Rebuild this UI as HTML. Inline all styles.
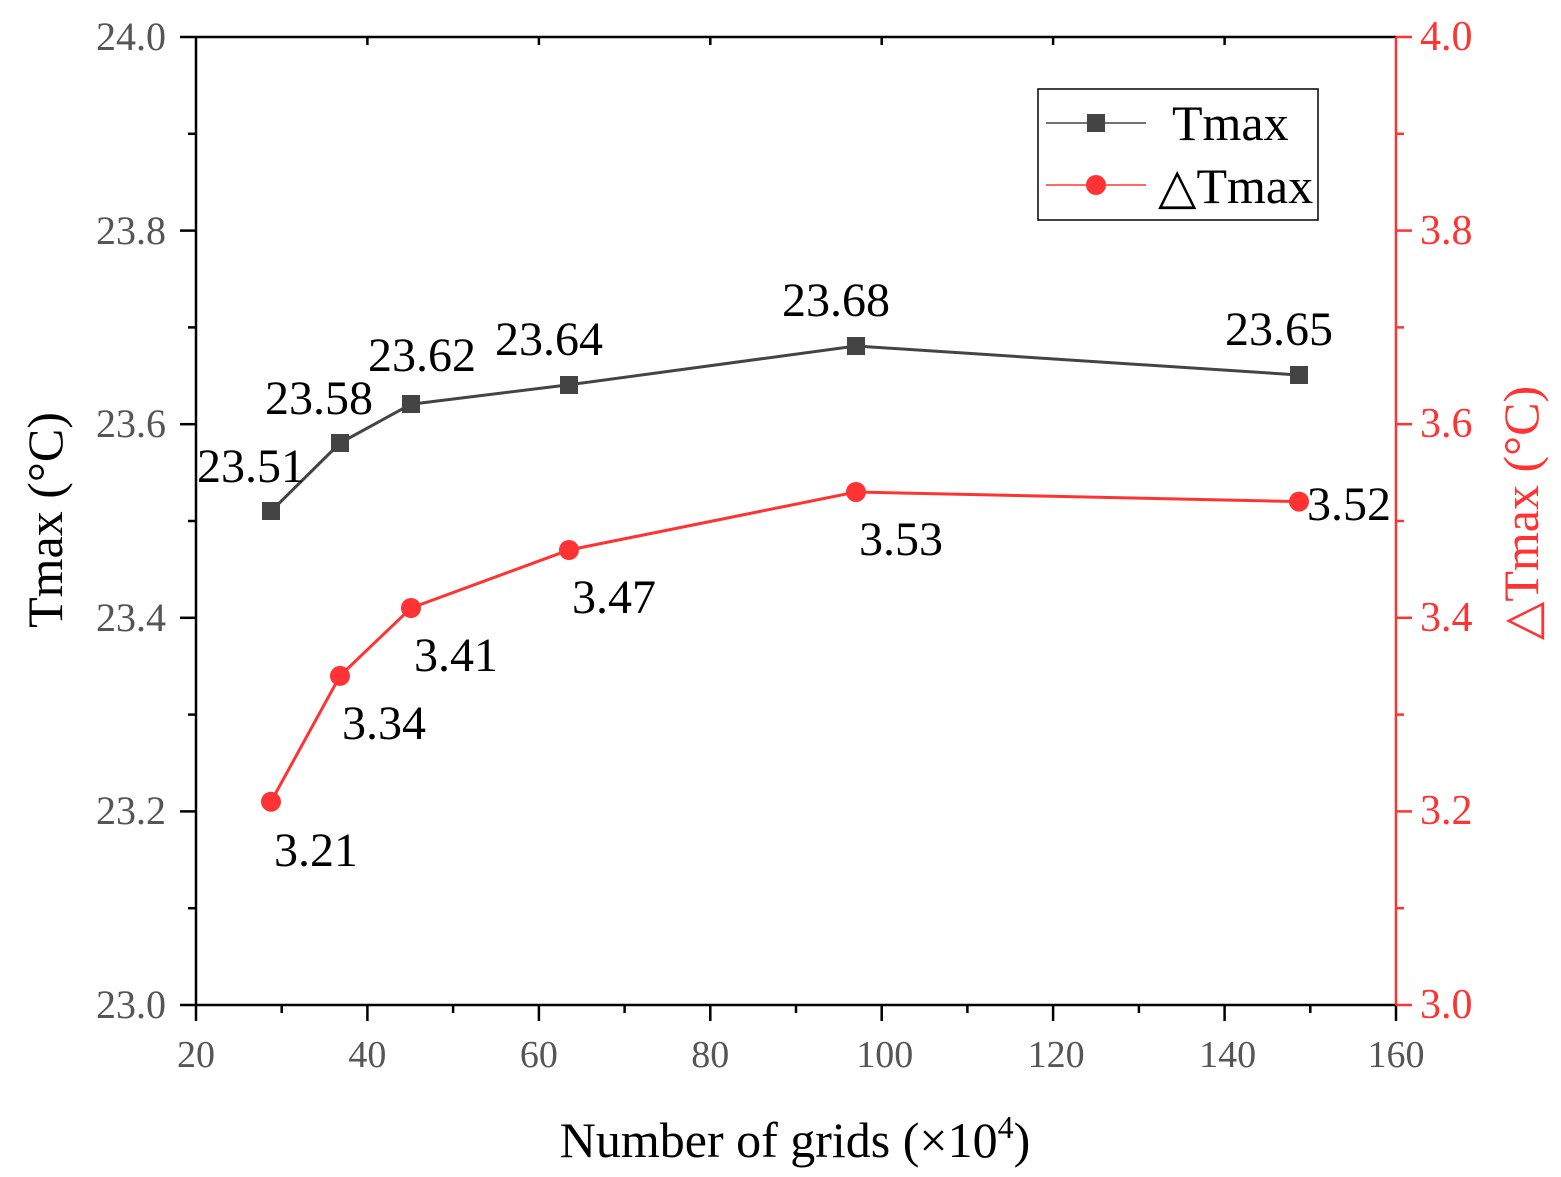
<!DOCTYPE html>
<html><head><meta charset="utf-8"><style>
html,body{margin:0;padding:0;background:#fff;}
svg{display:block;font-family:"Liberation Serif",serif;}
</style></head><body>
<svg width="1561" height="1177" viewBox="0 0 1561 1177" xmlns="http://www.w3.org/2000/svg">
<rect width="1561" height="1177" fill="#fff"/>
<g stroke="#000" stroke-width="2.5" fill="none">
<line x1="196" y1="37" x2="196" y2="1005"/>
<line x1="196" y1="1005" x2="1396" y2="1005"/>
<line x1="196" y1="37" x2="1396" y2="37"/>
</g>
<line x1="1396" y1="37" x2="1396" y2="1005" stroke="#ff3333" stroke-width="2.5"/>
<g stroke="#000" stroke-width="2.5">
<line x1="180" y1="37" x2="196" y2="37"/><line x1="180" y1="230.6" x2="196" y2="230.6"/>
<line x1="180" y1="424.2" x2="196" y2="424.2"/><line x1="180" y1="617.8" x2="196" y2="617.8"/>
<line x1="180" y1="811.4" x2="196" y2="811.4"/><line x1="180" y1="1005" x2="196" y2="1005"/>
<line x1="188" y1="133.8" x2="196" y2="133.8"/><line x1="188" y1="327.4" x2="196" y2="327.4"/>
<line x1="188" y1="521" x2="196" y2="521"/><line x1="188" y1="714.6" x2="196" y2="714.6"/>
<line x1="188" y1="908.2" x2="196" y2="908.2"/>
<line x1="196" y1="1005" x2="196" y2="1021"/><line x1="367.4" y1="1005" x2="367.4" y2="1021"/>
<line x1="538.9" y1="1005" x2="538.9" y2="1021"/><line x1="710.3" y1="1005" x2="710.3" y2="1021"/>
<line x1="881.7" y1="1005" x2="881.7" y2="1021"/><line x1="1053.1" y1="1005" x2="1053.1" y2="1021"/>
<line x1="1224.6" y1="1005" x2="1224.6" y2="1021"/><line x1="1396" y1="1005" x2="1396" y2="1021"/>
<line x1="281.7" y1="1005" x2="281.7" y2="1013"/><line x1="453.1" y1="1005" x2="453.1" y2="1013"/>
<line x1="624.6" y1="1005" x2="624.6" y2="1013"/><line x1="796" y1="1005" x2="796" y2="1013"/>
<line x1="967.4" y1="1005" x2="967.4" y2="1013"/><line x1="1138.9" y1="1005" x2="1138.9" y2="1013"/>
<line x1="1310.3" y1="1005" x2="1310.3" y2="1013"/>
<line x1="367.4" y1="37" x2="367.4" y2="45"/><line x1="538.9" y1="37" x2="538.9" y2="45"/>
<line x1="710.3" y1="37" x2="710.3" y2="45"/><line x1="881.7" y1="37" x2="881.7" y2="45"/>
<line x1="1053.1" y1="37" x2="1053.1" y2="45"/><line x1="1224.6" y1="37" x2="1224.6" y2="45"/>
</g>
<g stroke="#ff3333" stroke-width="2.5">
<line x1="1396" y1="37" x2="1412" y2="37"/><line x1="1396" y1="230.6" x2="1412" y2="230.6"/>
<line x1="1396" y1="424.2" x2="1412" y2="424.2"/><line x1="1396" y1="617.8" x2="1412" y2="617.8"/>
<line x1="1396" y1="811.4" x2="1412" y2="811.4"/><line x1="1396" y1="1005" x2="1412" y2="1005"/>
<line x1="1396" y1="133.8" x2="1404" y2="133.8"/><line x1="1396" y1="327.4" x2="1404" y2="327.4"/>
<line x1="1396" y1="521" x2="1404" y2="521"/><line x1="1396" y1="714.6" x2="1404" y2="714.6"/>
<line x1="1396" y1="908.2" x2="1404" y2="908.2"/>
</g>
<g font-size="40" fill="#555" text-anchor="end">
<text x="166" y="50">24.0</text><text x="166" y="244">23.8</text><text x="166" y="437">23.6</text>
<text x="166" y="631">23.4</text><text x="166" y="824">23.2</text><text x="166" y="1018">23.0</text>
</g>
<g font-size="42" fill="#ff3333">
<text x="1420" y="50">4.0</text><text x="1420" y="244">3.8</text><text x="1420" y="437">3.6</text>
<text x="1420" y="631">3.4</text><text x="1420" y="824">3.2</text><text x="1420" y="1018">3.0</text>
</g>
<g font-size="38" fill="#555" text-anchor="middle">
<text x="196" y="1067">20</text><text x="367.4" y="1067">40</text><text x="538.9" y="1067">60</text>
<text x="710.3" y="1067">80</text><text x="884.7" y="1067">100</text><text x="1056.1" y="1067">120</text>
<text x="1227.6" y="1067">140</text><text x="1396" y="1067">160</text>
</g>
<text x="795" y="1157" font-size="50" text-anchor="middle" fill="#000">Number of grids (×10<tspan font-size="32" dy="-19">4</tspan><tspan dy="19">)</tspan></text>
<text transform="translate(62,520) rotate(-90)" font-size="50" text-anchor="middle" fill="#000">Tmax (°C)</text>
<text transform="translate(1538,513) rotate(-90)" font-size="50" text-anchor="middle" fill="#ff3333">△Tmax (°C)</text>
<polyline points="271,511.3 340,443 411,404.2 569,384.8 856,346 1299,375" fill="none" stroke="#444" stroke-width="3"/>
<g fill="#444">
<rect x="262" y="502" width="18" height="18"/><rect x="331" y="434" width="18" height="18"/>
<rect x="402" y="395" width="18" height="18"/><rect x="560" y="376" width="18" height="18"/>
<rect x="847" y="337" width="18" height="18"/><rect x="1290" y="366" width="18" height="18"/>
</g>
<polyline points="271,801.7 340,675.9 411,608 569,550 856,492 1299,501.6" fill="none" stroke="#ff3333" stroke-width="3"/>
<g fill="#ff3333">
<circle cx="271" cy="801.7" r="10"/><circle cx="340" cy="675.9" r="10"/><circle cx="411" cy="608" r="10"/>
<circle cx="569" cy="550" r="10"/><circle cx="856" cy="492" r="10"/><circle cx="1299" cy="501.6" r="10"/>
</g>
<g font-size="48" fill="#000">
<text x="197" y="482">23.51</text><text x="265" y="414">23.58</text><text x="368" y="371">23.62</text>
<text x="495" y="355">23.64</text><text x="782" y="316">23.68</text><text x="1225" y="345">23.65</text>
<text x="274" y="866">3.21</text><text x="342" y="739">3.34</text><text x="414" y="671">3.41</text>
<text x="572" y="613">3.47</text><text x="859" y="555">3.53</text><text x="1307" y="520">3.52</text>
</g>
<rect x="1038" y="89" width="280" height="131" fill="#fff" stroke="#000" stroke-width="1.5"/>
<line x1="1046" y1="123" x2="1146" y2="123" stroke="#444" stroke-width="1.5"/>
<rect x="1087" y="114" width="18" height="18" fill="#444"/>
<text x="1172" y="140" font-size="50" fill="#000">Tmax</text>
<line x1="1046" y1="185" x2="1146" y2="185" stroke="#ff3333" stroke-width="1.5"/>
<circle cx="1096" cy="185" r="10" fill="#ff3333"/>
<text x="1158" y="203" font-size="50" fill="#000">△Tmax</text>
</svg>
</body></html>
